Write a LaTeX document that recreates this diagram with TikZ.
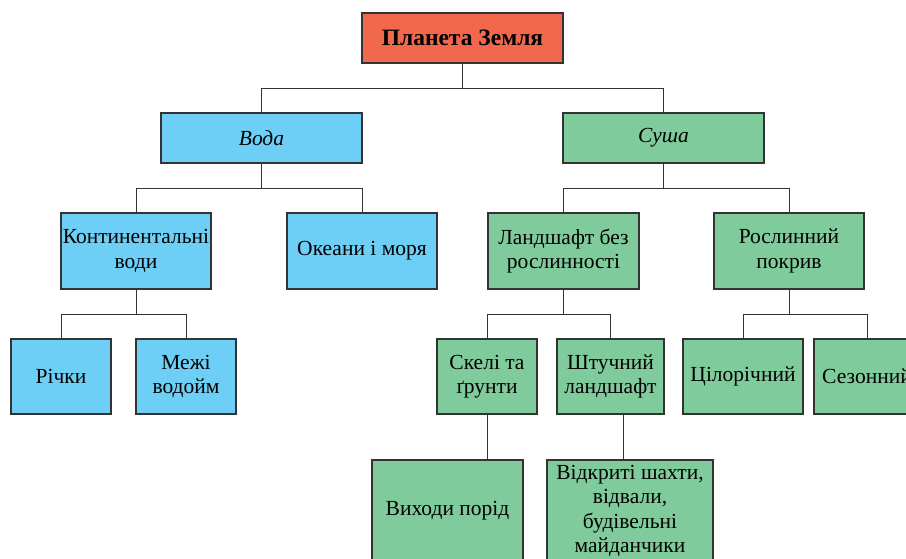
\documentclass[tikz,border=0pt]{standalone}
\usepackage{fontspec}
\setmainfont{Liberation Serif}
\usepackage{tikz}
\definecolor{zemlia}{RGB}{242,104,76}
\definecolor{vodacol}{RGB}{109,207,246}
\definecolor{sushacol}{RGB}{128,203,155}
\tikzset{
	box/.style={draw=black!80, line width=1.2pt, align=center, inner sep=1pt,
		font=\fontsize{21.5}{24.5}\selectfont},
	bluebox/.style={box, fill=vodacol},
	greenbox/.style={box, fill=sushacol},
	link/.style={draw=black!80, line width=0.9pt},
}
\begin{document}
\begin{tikzpicture}[x=1pt,y=-1pt]
		\useasboundingbox (0,0) rectangle (906,559);
		
		% 1. верхній рівень
		\node[box, fill=zemlia, minimum width=201pt, minimum height=50pt,
		font=\bfseries\fontsize{23.5}{24}\selectfont] (planeta) at (462.5,38) {Планета Земля};
		
		% 2. Вода і Суша
		\node[bluebox, minimum width=201pt, minimum height=50pt, font=\itshape\fontsize{21.5}{24}\selectfont] (voda) at (261.5,138) {Вода};
		\node[greenbox, minimum width=201pt, minimum height=50pt, font=\itshape\fontsize{21.5}{24}\selectfont] (susha) at (663.5,138) {Суша};
		
		% 3. третій рівень
		\node[bluebox, minimum width=150pt, minimum height=76pt] (kontyn) at (136,251) {Континентальні\\води};
		\node[bluebox, minimum width=150pt, minimum height=76pt] (okeany) at (362,251) {Океани і моря};
		\node[greenbox, minimum width=151pt, minimum height=76pt] (landshaft) at (563.5,251) {Ландшафт без\\рослинності};
		\node[greenbox, minimum width=150pt, minimum height=76pt] (roslyn) at (789,251) {Рослинний\\покрив};
		
		% 4. четвертий рівень
		\node[bluebox, minimum width=100pt, minimum height=75pt] (richky) at (61,376.5) {Річки};
		\node[bluebox, minimum width=100pt, minimum height=75pt] (mezhi) at (186,376.5) {Межі\\водойм};
		\node[greenbox, minimum width=100pt, minimum height=75pt] (skeli) at (487,376.5) {Скелі та\\ґрунти};
		\node[greenbox, minimum width=107pt, minimum height=75pt] (shtuchnyi) at (610.5,376.5) {Штучний\\ландшафт};
		\node[greenbox, minimum width=120pt, minimum height=75pt] (tsilo) at (743,376.5) {Цілорічний};
		\node[greenbox, minimum width=106pt, minimum height=75pt] (sezon) at (867,376.5) {Сезонний};
		
		% 5. нижній рівень (обрізаний краєм)
		\node[greenbox, minimum width=151pt, minimum height=102pt] (vykhody) at (447.5,511) {Виходи порід};
		\node[greenbox, minimum width=166pt, minimum height=102pt] (vidkryti) at (630,511) {Відкриті шахти,\\відвали,\\будівельні\\майданчики};
		
		% 6. з'єднання
		\foreach \a/\b in {planeta/voda, planeta/susha, voda/kontyn, voda/okeany,
			susha/landshaft, susha/roslyn, kontyn/richky, kontyn/mezhi,
			landshaft/skeli, landshaft/shtuchnyi, roslyn/tsilo, roslyn/sezon}
		\draw[link] (\a.south) -- ++(0,25) -| (\b.north);
		
		\draw[link] (skeli.south) -- (skeli.south |- vykhody.north);
		\draw[link] ([xshift=13pt]shtuchnyi.south) coordinate (sh) -- (sh |- vidkryti.north);
		
\end{tikzpicture}
\end{document}
